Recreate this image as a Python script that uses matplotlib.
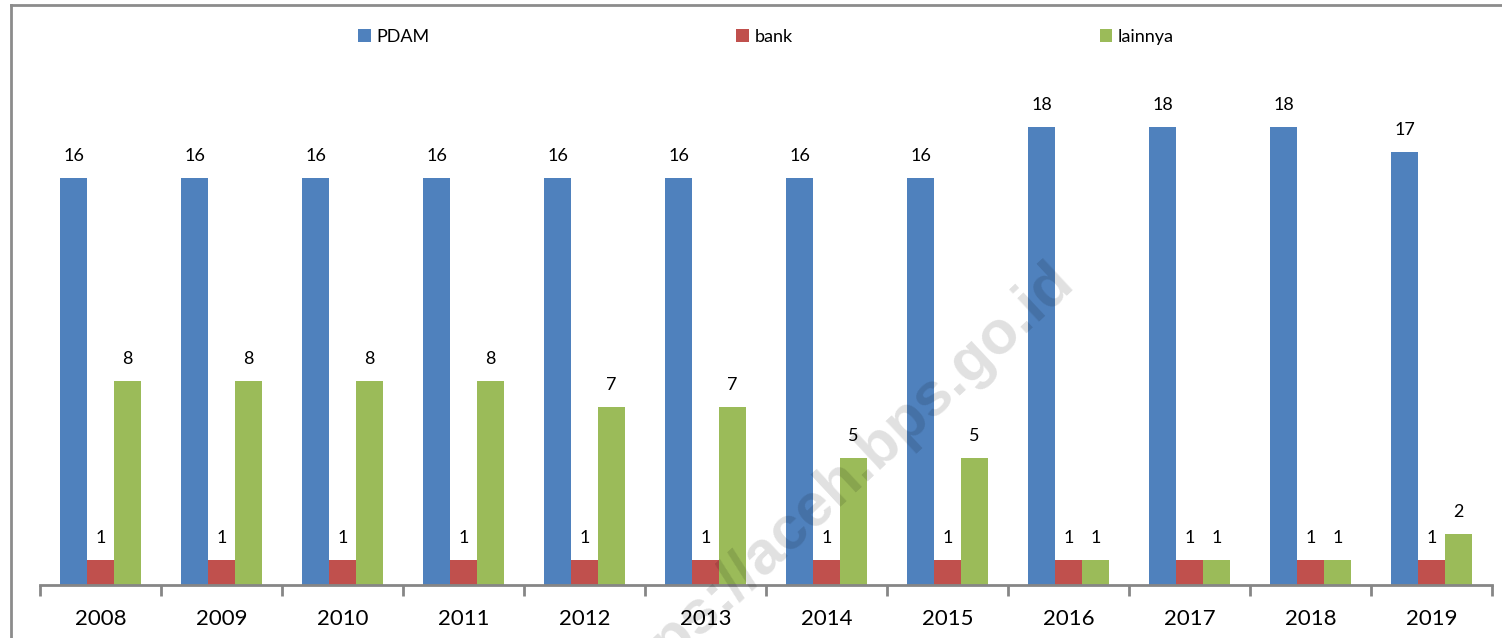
import numpy as np
import matplotlib.pyplot as plt
from matplotlib.lines import Line2D

years = ["2008", "2009", "2010", "2011", "2012", "2013",
         "2014", "2015", "2016", "2017", "2018", "2019"]
pdam = [16, 16, 16, 16, 16, 16, 16, 16, 18, 18, 18, 17]
bank = [1, 1, 1, 1, 1, 1, 1, 1, 1, 1, 1, 1]
lainnya = [8, 8, 8, 8, 7, 7, 5, 5, 1, 1, 1, 2]

series = [("PDAM", pdam, "#4F81BD"),
          ("bank", bank, "#C0504D"),
          ("lainnya", lainnya, "#9BBB59")]

plt.rcParams['font.family'] = ['Lato', 'DejaVu Sans']

W, H = 1502, 638
fig = plt.figure(figsize=(W / 100, H / 100), dpi=100)

# outer chart frame (only left and top visible in the crop)
fig.add_artist(Line2D([11 / W, 11 / W], [0, 1 - 5 / H], color="#8c8c8c", lw=2,
                      transform=fig.transFigure))
fig.add_artist(Line2D([11 / W, 1], [1 - 5 / H, 1 - 5 / H], color="#8c8c8c", lw=2,
                      transform=fig.transFigure))

ax = fig.add_axes([40 / W, (H - 585) / H, (1492 - 40) / W, (585 - 76) / H])

x = np.arange(len(years))
bw = 27 / 121
for i, (name, vals, col) in enumerate(series):
    pos = x + (i - 1) * bw
    ax.bar(pos, vals, width=bw, color=col, label=name, zorder=2)
    for xp, v in zip(pos, vals):
        ax.text(xp, v + 0.55, str(v), ha="center", va="bottom", fontsize=13)

ax.set_xlim(-0.5, len(years) - 0.5)
ax.set_ylim(0, 20)
ax.set_yticks([])
for s in ["left", "right", "top"]:
    ax.spines[s].set_visible(False)
ax.spines["bottom"].set_color("#868686")
ax.spines["bottom"].set_linewidth(2)

ax.set_xticks(np.arange(len(years) + 1) - 0.5)
ax.set_xticklabels([])
ax.tick_params(axis="x", length=8, width=2, color="#868686", direction="out")
ax.set_xticks(x, minor=True)
ax.set_xticklabels(years, minor=True, fontsize=16)
ax.tick_params(axis="x", which="minor", length=0, pad=17)

fig.legend(loc="center", bbox_to_anchor=(766 / W, 1 - 37 / H), ncol=3,
           frameon=False, fontsize=13, handlelength=0.7, handleheight=0.7,
           handletextpad=0.3, columnspacing=17)

# watermark
fig.text(1076 / W, 1 - 284 / H, "https://aceh.bps.go.id", rotation=43,
         ha="right", va="baseline", fontsize=44, fontweight="bold",
         color="black", alpha=0.12, rotation_mode="anchor",
         family=["Liberation Sans"])

fig.savefig("out.png", dpi=100)
plt.close(fig)
